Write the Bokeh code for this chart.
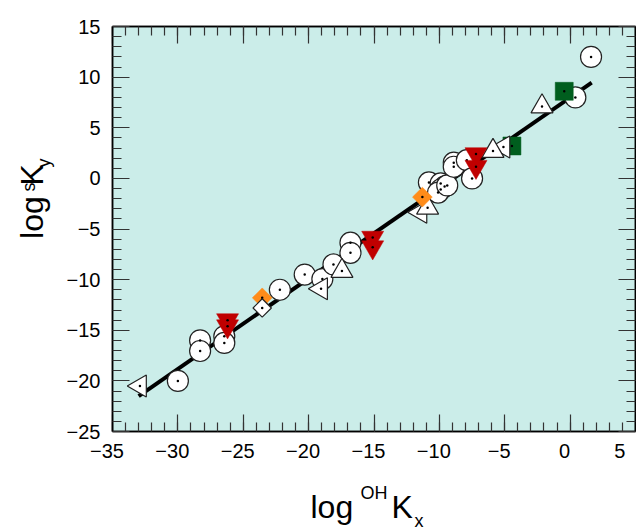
import numpy as np
from bokeh.plotting import figure
from bokeh.layouts import row, column
from bokeh.models import Range1d, LinearAxis, FixedTicker, Label
from bokeh.embed import file_html
from bokeh.resources import INLINE

# ---------------- data ----------------
x_ticks = [-35, -30, -25, -20, -15, -10, -5, 0, 5]
x_tick_labels = ["\u221235", "\u221230", "\u221225", "\u221220", "\u221215", "\u221210", "\u22125", "0", "5"]
y_ticks = [-25, -20, -15, -10, -5, 0, 5, 10, 15]
y_tick_labels = ["\u221225", "\u221220", "\u221215", "\u221210", "\u22125", "0", "5", "10", "15"]

circle_x = [-30.0, -28.3, -28.3, -26.45, -26.45, -22.2, -20.3, -18.95, -18.1, -16.8, -16.8,
            -10.8, -9.9, -9.6, -9.9, -10.1, -9.4, -8.9, -8.9, -7.9, -7.5, 0.4, 1.6]
circle_y = [-20.0, -16.0, -17.05, -15.6, -16.25, -11.0, -9.5, -9.95, -8.5, -6.35, -7.35,
            -0.4, -0.5, -0.8, -1.1, -1.4, -0.7, 1.55, 1.15, 1.8, 0.0, 8.0, 12.0]

up_tri_x = [-17.45, -10.9, -5.9, -2.15]
up_tri_y = [-9.15, -2.9, 2.7, 7.1]

left_tri_x = [-32.9, -19.05, -11.45, -5.1]
left_tri_y = [-20.5, -10.9, -3.35, 3.1]

red_tri_x = [-26.2, -26.2, -15.1, -15.1, -7.2, -7.2]
red_tri_y = [-14.0, -14.6, -5.85, -6.8, 2.4, 1.15]

orange_dia_x = [-23.55, -11.3]
orange_dia_y = [-11.8, -1.85]

white_dia_x = [-23.55]
white_dia_y = [-12.8]

green_sq_x = [-4.45, -0.45]
green_sq_y = [3.2, 8.6]

fit_x = [-33.0, 1.65]
fit_y = [-21.5, 9.45]

# ---------------- layout ----------------
W, H = 636, 531
LEFT_W = 60            # strip holding the y title
BOT_H = 60             # strip holding the x title
PW, PH = W - LEFT_W, H - BOT_H
FL = 112 - LEFT_W      # left border of main plot
FR, FT = 1, 26
FB = PH - FT - 405
X0, X1, Y0, Y1 = -35, 5, -25, 15

FONT = "Liberation Sans"
NB = "\u00a0\u00a0"    # nudges the x tick labels a little left of their ticks, as in the reference

p = figure(width=PW, height=PH, x_range=Range1d(X0, X1), y_range=Range1d(Y0, Y1),
           output_backend="svg", toolbar_location=None,
           min_border_left=FL, min_border_right=FR, min_border_top=FT, min_border_bottom=FB,
           x_axis_location=None, y_axis_location=None)
p.grid.visible = False
p.background_fill_color = "#CBEDE9"
p.border_fill_color = "white"
p.outline_line_color = "black"
p.outline_line_width = 1.5


def make_axis(ticks, show_labels, overrides=None, standoff=12):
    minor = [v for v in range(int(min(ticks)), int(max(ticks)) + 1)]
    ax = LinearAxis(ticker=FixedTicker(ticks=ticks, minor_ticks=minor))
    ax.major_tick_in = 17
    ax.major_tick_out = 0
    ax.minor_tick_in = 9
    ax.minor_tick_out = 0
    ax.major_tick_line_color = "#333333"
    ax.minor_tick_line_color = "#333333"
    ax.major_tick_line_width = 1.2
    ax.minor_tick_line_width = 1.2
    ax.axis_line_color = "black"
    ax.axis_line_width = 1.5
    if show_labels:
        ax.major_label_standoff = standoff
        ax.major_label_text_font = FONT
        ax.major_label_text_font_size = "20px"
        ax.major_label_text_color = "black"
        if overrides:
            ax.major_label_overrides = overrides
    else:
        ax.major_label_standoff = 0
        ax.major_label_text_font_size = "0px"
        ax.major_label_text_color = None
    return ax


p.add_layout(make_axis(y_ticks, True, {t: l for t, l in zip(y_ticks, y_tick_labels)}), "left")
p.add_layout(make_axis(y_ticks, False), "right")
p.add_layout(make_axis(x_ticks, True, {t: l + NB for t, l in zip(x_ticks, x_tick_labels)},
                       standoff=8), "below")
p.add_layout(make_axis(x_ticks, False), "above")

# fit line
p.line(fit_x, fit_y, line_color="black", line_width=4)

DOT = dict(marker="circle", size=2.5, fill_color="black", line_color=None)


def group(xs, ys, marker, size, fill, line, angle=0.0, lw=1.2):
    p.scatter(xs, ys, marker=marker, size=size, fill_color=fill, line_color=line,
              line_width=lw, angle=angle)
    p.scatter(xs, ys, **DOT)


group(circle_x, circle_y, "circle", 21, "white", "#222222")
group(green_sq_x, green_sq_y, "square", 18, "#005E1E", "#005E1E", lw=0.5)
group(left_tri_x, left_tri_y, "triangle", 22, "white", "#222222", angle=np.pi / 2)
group(up_tri_x, up_tri_y, "triangle", 22, "white", "#222222")
group(red_tri_x, red_tri_y, "inverted_triangle", 22, "#C00000", "#C00000", lw=0.5)
group(orange_dia_x, orange_dia_y, "square", 14, "#FF8C1A", "#FF8C1A", angle=np.pi / 4, lw=0.5)
group(white_dia_x, white_dia_y, "square", 13, "white", "#222222", angle=np.pi / 4)


# ---------------- title strips (pixel coordinates, y downward) ----------------
def strip(w, h, top):
    f = figure(width=w, height=h, x_range=Range1d(0, w), y_range=Range1d(top + h, top),
               output_backend="svg", toolbar_location=None,
               min_border=0, min_border_left=0, min_border_right=0,
               min_border_top=0, min_border_bottom=0,
               x_axis_location=None, y_axis_location=None)
    f.grid.visible = False
    f.outline_line_color = None
    f.background_fill_color = "white"
    f.border_fill_color = "white"
    return f


TITLE = dict(text_font=FONT, text_color="black", text_baseline="alphabetic", text_align="left")

left_fig = strip(LEFT_W, PH, 0)
for txt, x, y, fs in [("log", 31, 247, "32px"), ("s", 28, 192, "18px"),
                      ("K", 31, 185, "32px"), ("y", 43, 164, "18px")]:
    left_fig.add_layout(Label(x=x, y=y, text=txt, text_font_size=fs, angle=np.pi / 2, **TITLE))

bot_fig = strip(W, BOT_H, PH)
for txt, x, y, fs in [("log", 310, 506, "32px"), ("OH", 360, 492, "18px"),
                      ("K", 391, 506, "32px"), ("x", 414, 520, "18px")]:
    bot_fig.add_layout(Label(x=x, y=y, text=txt, text_font_size=fs, **TITLE))

layout = column(row(left_fig, p, spacing=0), bot_fig, spacing=0)
open("out.html", "w").write(file_html(layout, INLINE))
